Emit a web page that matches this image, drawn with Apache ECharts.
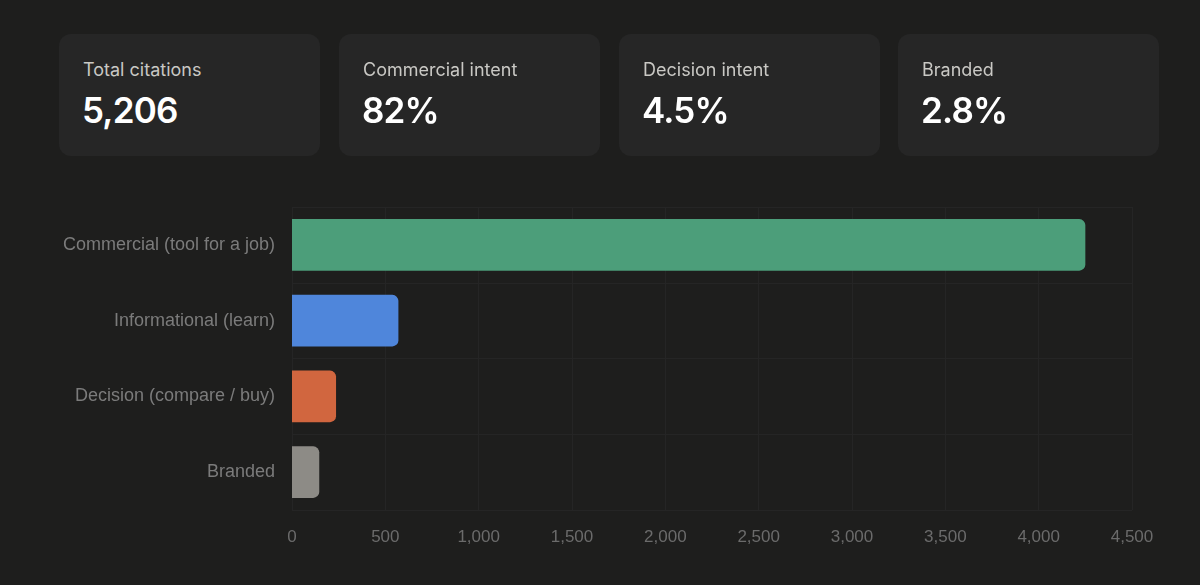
<!DOCTYPE html>
<html>
<head>
<meta charset="utf-8">
<script src="https://cdn.jsdelivr.net/npm/echarts@6/dist/echarts.min.js"></script>
<style>
  html, body { margin: 0; padding: 0; background: #1e1e1d; width: 1200px; height: 585px; overflow: hidden; }
  #main { position: absolute; left: 0; top: 0; width: 1200px; height: 585px; }
  .card { position: absolute; top: 34px; width: 261px; height: 122px; background: #262626; border-radius: 12px; font-family: Inter, "Noto Sans", sans-serif; }
  .card .lbl { position: absolute; top: 27px; left: 24px; font-size: 18px; line-height: 18px; color: #c9c8c4; }
  .card .val { position: absolute; top: 59px; left: 23px; font-size: 35px; line-height: 35px; font-weight: 600; color: #ffffff; letter-spacing: -0.8px; }
</style>
</head>
<body>
<div id="main"></div>
<div id="cards"></div>
<script>
// 顶部指标卡
var cardLabels = ["Total citations", "Commercial intent", "Decision intent", "Branded"];
var cardValues = ["5,206", "82%", "4.5%", "2.8%"];

// 条形图数据
var categories = ["Commercial (tool for a job)", "Informational (learn)", "Decision (compare / buy)", "Branded"];
var citations = [4250, 570, 236, 146];
var barColors = ["#4c9e7a", "#4f86db", "#d1663f", "#8d8b86"];

var cardLeft = [59, 339, 619, 898];
var holder = document.getElementById("cards");
for (var i = 0; i < cardLabels.length; i++) {
  var c = document.createElement("div");
  c.className = "card";
  c.style.left = cardLeft[i] + "px";
  c.innerHTML = '<div class="lbl">' + cardLabels[i] + '</div><div class="val">' + cardValues[i] + '</div>';
  holder.appendChild(c);
}

var myChart = echarts.init(document.getElementById("main"));
var option = {
  backgroundColor: "transparent",
  animation: false,
  grid: { left: 292, right: 68, top: 207, bottom: 75 },
  xAxis: {
    type: "value",
    min: 0,
    max: 4500,
    interval: 500,
    axisLine: { show: false },
    axisTick: { show: false },
    splitLine: { show: true, lineStyle: { color: "#252525", width: 1 } },
    axisLabel: {
      color: "#6b6b6b",
      fontSize: 17,
      fontFamily: "Liberation Sans, Arial, sans-serif",
      margin: 19,
      formatter: function (v) { return v.toLocaleString("en-US"); }
    }
  },
  yAxis: {
    type: "category",
    data: categories,
    inverse: true,
    axisLine: { show: false },
    axisTick: { show: false },
    splitLine: { show: true, lineStyle: { color: "#252525", width: 1 } },
    axisLabel: {
      color: "#7b7b7b",
      fontSize: 18,
      fontFamily: "Liberation Sans, Arial, sans-serif",
      margin: 17
    }
  },
  series: [{
    type: "bar",
    data: citations.map(function (v, i) {
      return { value: v, itemStyle: { color: barColors[i] } };
    }),
    barCategoryGap: "32%",
    itemStyle: { borderRadius: [0, 6, 6, 0] }
  }]
};
myChart.setOption(option);
</script>
</body>
</html>
